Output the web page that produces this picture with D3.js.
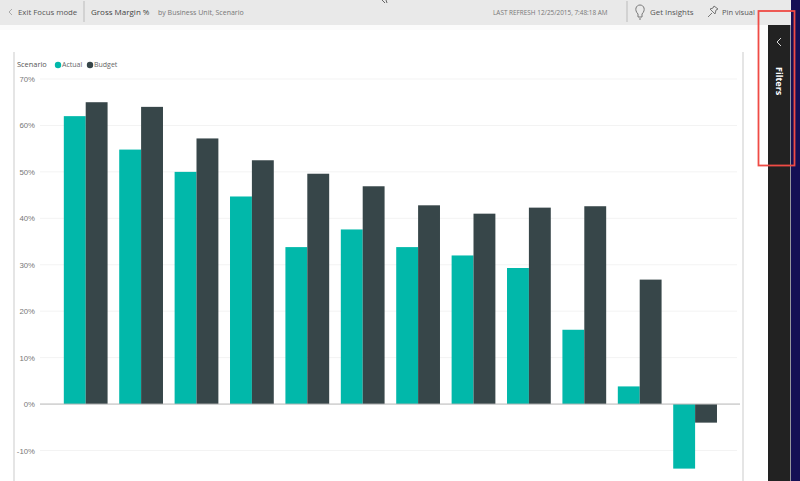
<!DOCTYPE html>
<html>
<head>
<meta charset="utf-8">
<script src="https://cdn.jsdelivr.net/npm/d3@7/dist/d3.min.js"></script>
<style>
html,body{margin:0;padding:0;background:#fff;overflow:hidden}
svg{display:block;font-family:"Open Sans","Noto Sans",sans-serif}
</style>
</head>
<body>
<svg id="page" width="800" height="481"></svg>
<script>
// Gross margin by business unit, one pair of bars per unit
const units = ["BU 1","BU 2","BU 3","BU 4","BU 5","BU 6","BU 7","BU 8","BU 9","BU 10","BU 11","BU 12"];
const actual = [62.0,54.8,50.0,44.7,33.8,37.6,33.8,32.0,29.3,16.0,3.8,-13.9];
const budget = [65.0,64.0,57.2,52.5,49.6,46.9,42.8,41.0,42.3,42.6,26.8,-4.0];
const scenarios = ["Actual","Budget"];
const yTicks = [70,60,50,40,30,20,10,0,-10];

const colors = d3.scaleOrdinal().domain(scenarios).range(["#01b8aa","#374649"]);
const svg = d3.select("#page");

// Toolbar across the top
svg.append("rect").attr("width",800).attr("height",25).attr("fill","#e9e9e9");
svg.append("rect").attr("y",25).attr("width",768).attr("height",5).attr("fill","#fbfbfb");

const toolbarText = [
  {x:18,t:"Exit Focus mode",s:7.8,c:"#555"},
  {x:91,t:"Gross Margin %",s:8,c:"#444"},
  {x:158,t:"by Business Unit, Scenario",s:7,c:"#777"},
  {x:493,t:"LAST REFRESH 12/25/2015, 7:48:18 AM",s:6.4,c:"#777"},
  {x:650,t:"Get Insights",s:7.9,c:"#555"},
  {x:722,t:"Pin visual",s:7.5,c:"#555"}
];
svg.append("g").selectAll("text").data(toolbarText).join("text")
  .attr("x",d=>d.x).attr("y",15).attr("font-size",d=>d.s).attr("fill",d=>d.c).text(d=>d.t);

// Toolbar dividers and small icons
svg.append("g").selectAll("line").data([84,627]).join("line")
  .attr("x1",d=>d).attr("x2",d=>d).attr("y1",1).attr("y2",22).attr("stroke","#bbb");
const icons = svg.append("g").attr("fill","none").attr("stroke","#777").attr("stroke-width",1);
icons.append("path").attr("d","M12 9 L9 12 L12 15").attr("stroke","#aaa");
icons.append("path").attr("d","M638 14 C634 10 636 5 640 5 C644 5 646 10 642 14 L642 17 L638 17 Z M639 19 L641 19");
icons.append("path").attr("d","M708 17 L712 13 M710 9 L715 14 L716 10 L718 9 L714 6 L713 8 Z");
icons.append("path").attr("d","M382 0 L385 3 M386 0 L387 3").attr("stroke","#666");

// Filters pane on the right edge
svg.append("rect").attr("x",768).attr("y",25).attr("width",22.5).attr("height",456).attr("fill","#222222");
svg.append("rect").attr("x",790.5).attr("y",25).attr("width",0.8).attr("height",456).attr("fill","#9a9aa8");
svg.append("rect").attr("x",791).attr("y",0).attr("width",9).attr("height",481).attr("fill","#150f55");
svg.append("path").attr("d","M781 38 L777 42 L781 46").attr("fill","none").attr("stroke","#ddd").attr("stroke-width",1);
svg.append("text").attr("transform","translate(776,67) rotate(90)")
  .attr("font-size",9).attr("font-weight",700).attr("fill","#fff").text("Filters");

// Visual frame
svg.append("g").selectAll("line").data([14,743]).join("line")
  .attr("x1",d=>d).attr("x2",d=>d).attr("y1",52).attr("y2",481)
  .attr("stroke","#dcdcdc").attr("stroke-width",1.5);

// Scales
const y = d3.scaleLinear().domain([-10,70]).range([450.5,79]);
const x0 = d3.scaleBand().domain(units).range([58,722.8]).paddingInner(0.21).paddingOuter(0.105);
const x1 = d3.scaleBand().domain(scenarios).range([0,x0.bandwidth()]);

// Horizontal gridlines and percent labels from the value axis
const yAxis = d3.axisLeft(y).tickValues(yTicks).tickFormat(d=>d+"%").tickSize(0).tickPadding(0);
const axis = svg.append("g").attr("transform","translate(35,0)").call(yAxis);
axis.select(".domain").remove();
axis.selectAll("text").attr("font-size",7.8).attr("fill","#777").attr("font-family","inherit");
svg.append("g").selectAll("line").data(yTicks.filter(d=>d!==0)).join("line")
  .attr("x1",40).attr("x2",737).attr("y1",d=>y(d)).attr("y2",d=>y(d))
  .attr("stroke","#f3f3f3").attr("stroke-width",1);

// Paired bars
const rows = units.map((u,i)=>({unit:u,Actual:actual[i],Budget:budget[i]}));
svg.append("g").selectAll("g").data(rows).join("g")
  .attr("transform",d=>`translate(${x0(d.unit)},0)`)
  .selectAll("rect").data(d=>scenarios.map(s=>({s,v:d[s]}))).join("rect")
  .attr("x",d=>x1(d.s)).attr("width",x1.bandwidth())
  .attr("y",d=>y(Math.max(0,d.v))).attr("height",d=>Math.abs(y(d.v)-y(0)))
  .attr("fill",d=>colors(d.s));

// Zero baseline
svg.append("line").attr("x1",40).attr("x2",740).attr("y1",y(0)).attr("y2",y(0))
  .attr("stroke","#b5b5b5").attr("stroke-width",1);

// Legend
svg.append("text").attr("x",17).attr("y",67).attr("font-size",7.4).attr("fill","#555").text("Scenario");
const legend = svg.append("g").selectAll("g").data(scenarios).join("g")
  .attr("transform",(d,i)=>`translate(${i?90:58},65)`);
legend.append("circle").attr("r",3.2).attr("fill",d=>colors(d));
legend.append("text").attr("x",4).attr("y",2.2).attr("font-size",7).attr("fill","#666").text(d=>d);

// Red highlight box around the Filters tab
svg.append("rect").attr("x",758.5).attr("y",11).attr("width",36).attr("height",154.5)
  .attr("fill","none").attr("stroke","#ef4b45").attr("stroke-width",1.8);
</script>
</body>
</html>
